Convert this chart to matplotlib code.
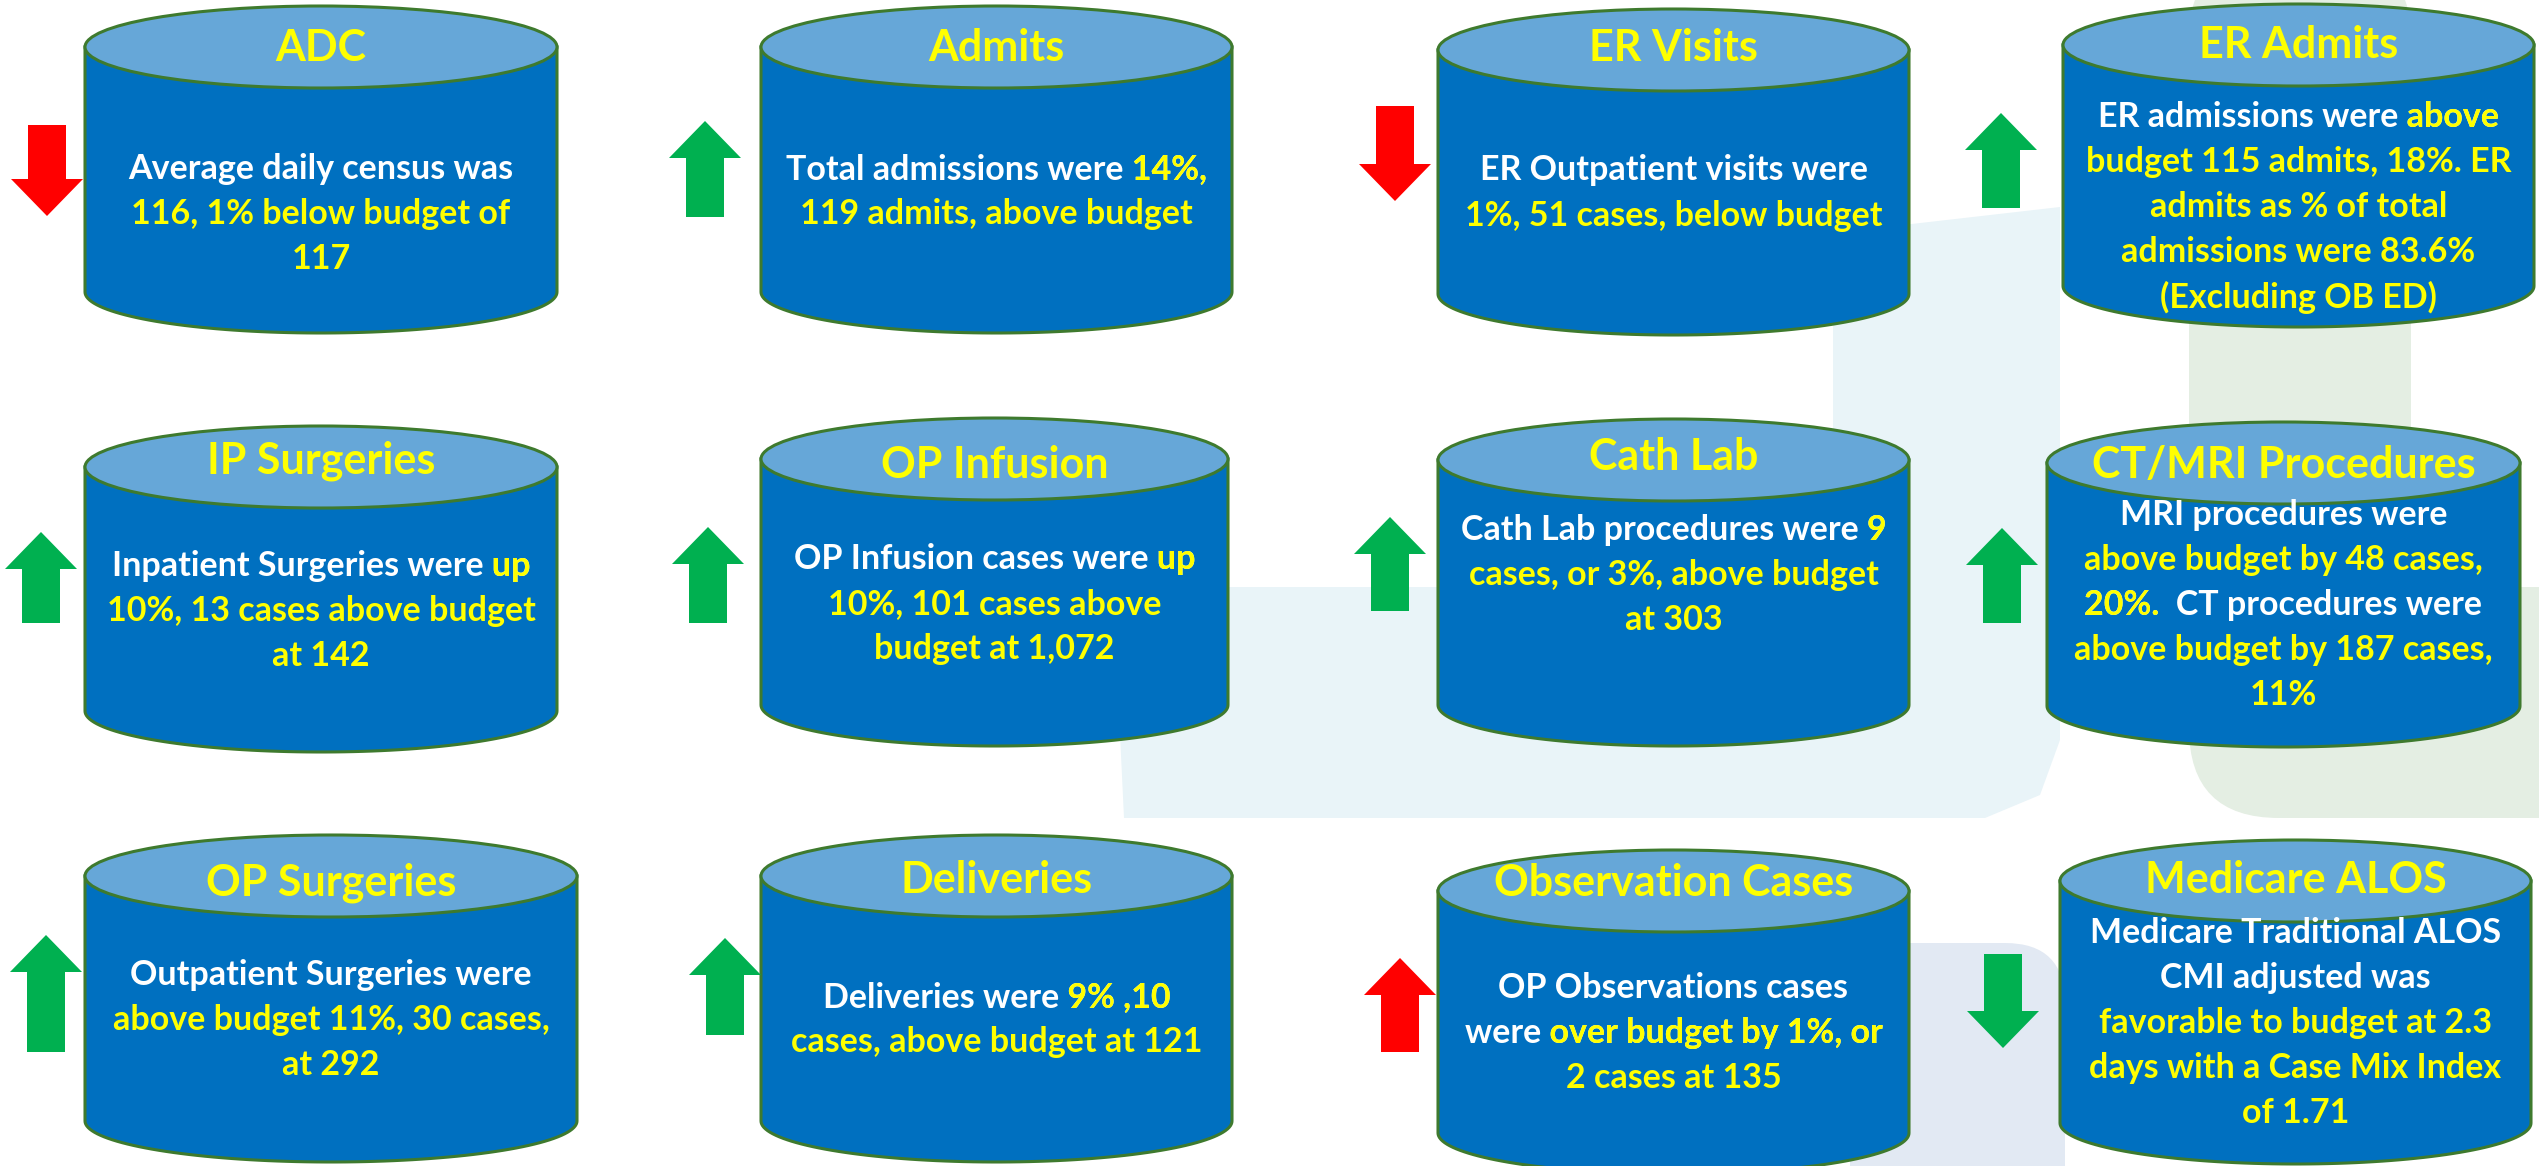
import numpy as np
import matplotlib.pyplot as plt
from matplotlib.patches import Ellipse, PathPatch, Polygon, FancyBboxPatch
from matplotlib.path import Path
from matplotlib.transforms import Bbox, TransformedBbox

plt.rcParams['font.family'] = ['Lato', 'DejaVu Sans']

# ---- data ----
titles = ['ADC', 'Admits', 'ER Visits', 'ER Admits',
          'IP Surgeries', 'OP Infusion', 'Cath Lab', 'CT/MRI Procedures',
          'OP Surgeries', 'Deliveries', 'Observation Cases', 'Medicare ALOS']

W, Y = 'w', 'y'
descriptions = [
    [[("Average daily census was", W)], [("116, 1% below budget of", Y)], [("117", Y)]],
    [[("Total admissions were ", W), ("14%,", Y)], [("119 admits, above budget", Y)]],
    [[("ER Outpatient visits were", W)], [("1%, 51 cases, below budget", Y)]],
    [[("ER admissions were ", W), ("above", Y)], [("budget 115 admits, 18%. ER", Y)],
     [("admits as % of total", Y)], [("admissions were 83.6%", Y)], [("(Excluding OB ED)", Y)]],
    [[("Inpatient Surgeries were ", W), ("up", Y)], [("10%, 13 cases above budget", Y)], [("at 142", Y)]],
    [[("OP Infusion cases were ", W), ("up", Y)], [("10%, 101 cases above", Y)], [("budget at 1,072", Y)]],
    [[("Cath Lab procedures were ", W), ("9", Y)], [("cases, or 3%, above budget", Y)], [("at 303", Y)]],
    [[("MRI procedures were", W)], [("above budget by 48 cases,", Y)],
     [("20%.  ", Y), ("CT procedures were", W)], [("above budget by 187 cases,", Y)], [("11%", Y)]],
    [[("Outpatient Surgeries were", W)], [("above budget 11%, 30 cases,", Y)], [("at 292", Y)]],
    [[("Deliveries were ", W), ("9% ,10", Y)], [("cases, above budget at 121", Y)]],
    [[("OP Observations cases", W)], [("were ", W), ("over budget by 1%, or", Y)], [("2 cases at 135", Y)]],
    [[("Medicare Traditional ALOS", W)], [("CMI adjusted was", W)], [("favorable to budget at 2.3", Y)],
     [("days with a Case Mix Index", Y)], [("of 1.71", Y)]],
]

trend = ['down', 'up', 'down', 'up', 'up', 'up', 'up', 'up', 'up', 'up', 'up', 'down']
favorable = [False, True, False, True, True, True, True, True, True, True, False, True]

# ---- layout (pixels) ----
# cylinder: left, right, top, bottom
boxes = [(85, 557, 6, 333), (761, 1232, 6, 333), (1438, 1909, 9, 335), (2063, 2534, 4, 327),
         (85, 557, 426, 752), (761, 1228, 418, 746), (1438, 1909, 419, 746), (2047, 2520, 422, 747),
         (85, 577, 835, 1162), (761, 1232, 835, 1162), (1438, 1909, 850, 1174), (2060, 2531, 840, 1164)]
title_y = [48, 48, 48, 45, 461, 465, 457, 465, 883, 880, 883, 880]
text_y = [214, 192, 193, 207, 611, 604, 575, 605, 1020, 1020, 1033, 1023]
arrows = [(47, 125, 216), (705, 121, 217), (1395, 106, 201), (2001, 113, 208),
          (41, 532, 623), (708, 527, 623), (1390, 517, 611), (2002, 528, 623),
          (46, 935, 1052), (725, 938, 1035), (1400, 958, 1052), (2003, 954, 1048)]

EH = 82
LINE = 45
BODY = '#0070C0'
TOP = '#66A7D8'
EDGE = '#3E7A2E'
YELLOW = '#FFFF00'

fig = plt.figure(figsize=(25.39, 11.66), dpi=100)
ax = fig.add_axes([0, 0, 1, 1])
ax.set_xlim(0, 2539)
ax.set_ylim(1166, 0)
ax.axis('off')

# ---- faint watermark in background ----
lb = '#E9F4F8'
gr = '#E4EEE3'
ax.add_patch(Polygon([(1113, 587), (1833, 587), (1833, 233), (2060, 207), (2060, 740),
                      (2040, 795), (1985, 818), (1124, 818)], closed=True, fc=lb, ec='none', zorder=0))
ax.add_patch(FancyBboxPatch((2189, -50), 222, 868, boxstyle='round,pad=0,rounding_size=90',
                            fc=gr, ec='none', zorder=0))
ax.add_patch(Polygon([(2300, 587), (2539, 587), (2539, 818), (2300, 818)], fc=gr, ec='none', zorder=0))
ax.add_patch(FancyBboxPatch((1850, 943), 215, 300, boxstyle='round,pad=0,rounding_size=60',
                            fc='#E2E9F3', ec='none', zorder=0))


def cylinder(l, r, t, b):
    cx = (l + r) / 2
    a = (r - l) / 2
    ty = t + EH / 2
    by = b - EH / 2
    th = np.linspace(np.pi, 0, 80)
    arc = np.column_stack([cx + a * np.cos(th), by + EH / 2 * np.sin(th)])
    verts = np.vstack([[(l, ty)], arc, [(r, ty)], [(l, ty)]])
    ax.add_patch(PathPatch(Path(verts, closed=True), fc=BODY, ec=EDGE, lw=2.2, zorder=2))
    ax.add_patch(Ellipse((cx, ty), 2 * a, EH, fc=TOP, ec=EDGE, lw=2.2, zorder=3))
    return cx


def block_arrow(cx, y0, y1, direction, color, w=72, sw=38, hl=37):
    if direction == 'up':
        pts = [(cx, y0), (cx + w / 2, y0 + hl), (cx + sw / 2, y0 + hl), (cx + sw / 2, y1),
               (cx - sw / 2, y1), (cx - sw / 2, y0 + hl), (cx - w / 2, y0 + hl)]
    else:
        pts = [(cx, y1), (cx + w / 2, y1 - hl), (cx + sw / 2, y1 - hl), (cx + sw / 2, y0),
               (cx - sw / 2, y0), (cx - sw / 2, y1 - hl), (cx - w / 2, y1 - hl)]
    ax.add_patch(Polygon(pts, closed=True, fc=color, ec='none', zorder=2))


renderer = fig.canvas.get_renderer()
tprops = dict(fontsize=24.5, fontweight='bold', va='center', zorder=5)


def mixed_line(cx, y, segs):
    full = ''.join(s for s, _ in segs)
    if len(segs) == 1:
        ax.text(cx, y, full, ha='center', color='white' if segs[0][1] == W else YELLOW, **tprops)
        return
    base = ax.text(cx, y, full, ha='center', color='white', **tprops)
    bb = base.get_window_extent(renderer)
    inv = ax.transData.inverted()
    x0 = inv.transform((bb.x0, bb.y0))[0]
    pos = 0
    for s, c in segs:
        start = pos
        pos += len(s)
        if c != Y:
            continue
        edges = []
        for k in (start, pos):
            if k == 0:
                edges.append(x0 - 20)
            elif k == len(full):
                edges.append(x0 + bb.width + 20)
            else:
                pre = ax.text(x0, y, full[:k].rstrip(), ha='left', **tprops)
                pb = pre.get_window_extent(renderer)
                pre.remove()
                edges.append(inv.transform((pb.x1, pb.y0))[0] + 5)
        t = ax.text(cx, y, full, ha='center', color=YELLOW, **tprops)
        clip = Bbox([[edges[0], y - 40], [edges[1], y + 40]])
        t.set_clip_box(TransformedBbox(clip, ax.transData))
        t.set_clip_on(True)


for i, name in enumerate(titles):
    l, r, t, b = boxes[i]
    cx = cylinder(l, r, t, b)
    ax.text(cx, title_y[i], name, ha='center', va='center', fontsize=31,
            fontweight='bold', color=YELLOW, zorder=5)
    lines = descriptions[i]
    n = len(lines)
    for j, segs in enumerate(lines):
        mixed_line(cx, text_y[i] + (j - (n - 1) / 2) * LINE, segs)
    acx, ay0, ay1 = arrows[i]
    block_arrow(acx, ay0, ay1, trend[i], '#00B050' if favorable[i] else '#FF0000')

fig.savefig('out.png', dpi=100)
